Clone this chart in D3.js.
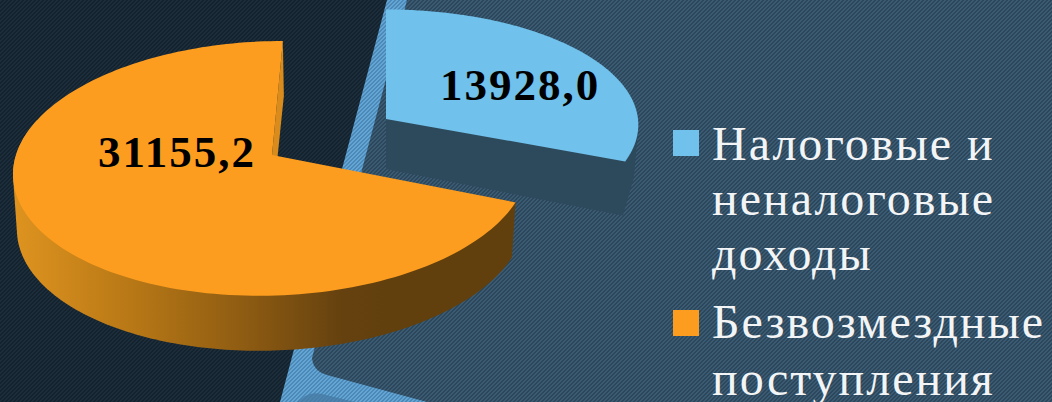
<!DOCTYPE html>
<html><head><meta charset="utf-8">
<script src="https://cdn.jsdelivr.net/npm/d3@7"></script>
<style>html,body{margin:0;padding:0;background:#16242f;overflow:hidden}svg{display:block}</style>
</head><body><svg id="c" width="1052" height="402"></svg>
<script>
const categories = ["Налоговые и неналоговые доходы", "Безвозмездные поступления"];
const legendLines = [["Налоговые и", "неналоговые", "доходы"], ["Безвозмездные", "поступления"]];
const values = [13928.0, 31155.2];
const valueLabels = ["13928,0", "31155,2"];
const colors = ["#70c1eb", "#fd9d1f"];

const svg = d3.select("#c");
const defs = svg.append("defs");
function hatch(id, base, stripe){
  const p = defs.append("pattern").attr("id", id).attr("width", 4).attr("height", 4)
    .attr("patternUnits", "userSpaceOnUse");
  p.append("rect").attr("width", 4).attr("height", 4).attr("fill", base);
  d3.range(4).forEach(y => d3.range(4).forEach(x => {
    if ((x + y) % 4 < 2) p.append("rect").attr("x", x).attr("y", y).attr("width", 1).attr("height", 1).attr("fill", stripe);
  }));
}
hatch("hDark", "#14222e", "#1c2e3c");
hatch("hPanel", "#2c475b", "#3b5b73");
hatch("hBand", "#4c89b7", "#63a6d6");

svg.append("rect").attr("width", 1052).attr("height", 402).attr("fill", "url(#hDark)");
svg.append("path").attr("fill", "url(#hBand)").attr("d", "M387,0L1052,0L1052,402L280,402Z");
svg.append("path").attr("fill", "url(#hPanel)")
  .attr("d", "M407,0L1052,0L1052,402L427,402L327,375Q313,371 312,358Z");
svg.append("path").attr("fill", "#4577a0").attr("opacity", .7).attr("d", "M297,402L305,396Q312,392 322,394L355,402Z");

const wallGrad = defs.append("linearGradient").attr("id", "wall")
  .attr("gradientUnits", "userSpaceOnUse").attr("x1", 15).attr("x2", 400).attr("y1", 0).attr("y2", 0);
[[0, "#de931f"], [.3, "#b87816"], [.6, "#8d5b12"], [.85, "#65410f"], [1, "#61400e"]]
  .forEach(([o, c]) => wallGrad.append("stop").attr("offset", o).attr("stop-color", c));

const pie = d3.pie().sort(null).value(d => d);
const arcs = pie(values);
const depth = 55;
const geom = [
  {cx: 386, cy: 119, rx: 252, ry: 115, p: .05, s: 0, wallFill: "#2d4a5c"},
  {cx: 272, cy: 155, rx: 256, ry: 126, p: .105, s: 12, wallFill: "url(#wall)"}
];
const project = (g, a, r = 1, dy = 0, k = 1) => {
  const u = r * Math.sin(a), v = r * Math.cos(a), w = 1 + g.p * v;
  return [g.cx + k * (g.rx * u + g.s * v) / w, g.cy + dy - g.ry * v / w];
};
const line = d3.line();
const sample = (a0, a1, n = 160) => d3.range(n + 1).map(i => a0 + (a1 - a0) * i / n);

arcs.forEach((d, i) => {
  const g = geom[i], group = svg.append("g");
  if (i === 0) {
    const front = sample(d.endAngle - .3, d.endAngle, 24);
    const pts = [project(g, 0, 0), project(g, 0, 0, depth - 5), project(g, d.endAngle), project(g, d.endAngle, 1, depth - 1, .99)]
      .concat(front.map(a => project(g, a)), front.map(a => project(g, a, 1, depth - 12, .985)));
    group.append("path").attr("fill", g.wallFill).attr("d", line(d3.polygonHull(pts)) + "Z");
  } else {
    const front = sample(d.startAngle, 5.0);
    const pts = front.map(a => project(g, a)).concat(front.map(a => project(g, a, 1, depth, .985)));
    group.append("path").attr("fill", g.wallFill).attr("d", line(d3.polygonHull(pts)) + "Z");
    const O = project(g, d.endAngle), A = project(g, 0, 0);
    group.append("path").attr("fill", "#d98c1c")
      .attr("d", line([A, O, [O[0] + 1, O[1] + depth], [A[0], A[1] + depth]]) + "Z");
  }
  const rim = sample(d.startAngle, d.endAngle).map(a => project(g, a));
  group.append("path").attr("fill", colors[i]).attr("d", line([project(g, 0, 0), ...rim]) + "Z");
});

const labelPos = [[520, 100], [177, 167]];
valueLabels.forEach((t, i) => svg.append("text").text(t)
  .attr("x", labelPos[i][0]).attr("y", labelPos[i][1]).attr("text-anchor", "middle")
  .attr("font-family", "'Liberation Serif'").attr("font-weight", 700).attr("font-size", 45)
  .attr("letter-spacing", 2).attr("fill", "#000"));

const swatchY = [130, 310];
const baselines = [[160, 215, 270], [338, 395]];
categories.forEach((c, i) => {
  const g = svg.append("g").attr("class", "legend-item");
  g.append("title").text(c);
  g.append("rect").attr("x", 673).attr("y", swatchY[i]).attr("width", 26).attr("height", 26).attr("fill", colors[i]);
  legendLines[i].forEach((t, j) => g.append("text").text(t)
    .attr("x", 712).attr("y", baselines[i][j])
    .attr("font-family", "'Liberation Serif'").attr("font-size", 48).attr("letter-spacing", 2).attr("fill", "#f2f4f6"));
});
</script></body></html>
